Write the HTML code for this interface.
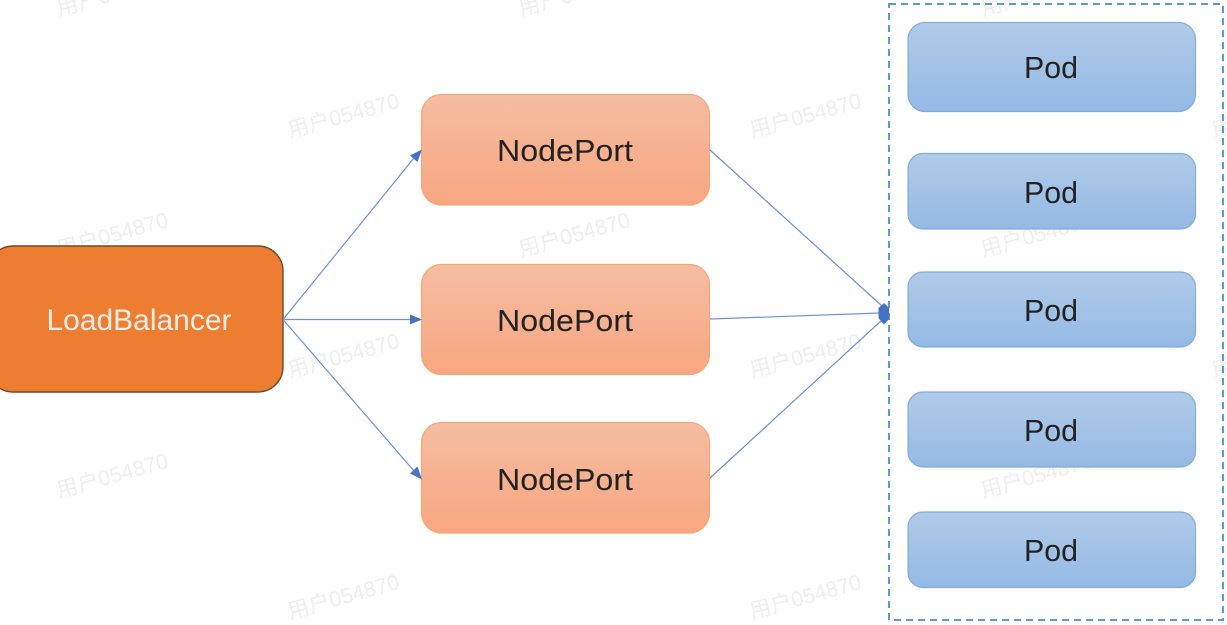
<!DOCTYPE html>
<html>
<head>
<meta charset="utf-8">
<style>
html,body{margin:0;padding:0;background:#fff;width:1227px;height:625px;overflow:hidden}
svg{display:block}
.wm{font-family:"Liberation Sans","Noto Sans CJK SC",sans-serif;font-size:21.5px;fill:#efefef}
.t{font-family:"Liberation Sans",sans-serif;font-size:31px;fill:#222;text-anchor:middle}
.o{fill:url(#og);stroke:#f4a878;stroke-width:1.2}
.b{fill:url(#bg);stroke:#7fadde;stroke-width:1.2}
.l{stroke:#6a93d6;stroke-width:1.2;fill:none}
.a{fill:#4472c4}
</style>
</head>
<body>
<svg width="1227" height="625" viewBox="0 0 1227 625" xmlns="http://www.w3.org/2000/svg">
<defs>
<linearGradient id="og" x1="0" y1="0" x2="0" y2="1"><stop offset="0" stop-color="#f5bda2"/><stop offset="1" stop-color="#f7a680"/></linearGradient>
<linearGradient id="bg" x1="0" y1="0" x2="0" y2="1"><stop offset="0" stop-color="#b1cbe9"/><stop offset="1" stop-color="#94b9e4"/></linearGradient>
</defs>

<g class="wm">
<text transform="translate(59,16) rotate(-15.5)">用户054870</text>
<text transform="translate(59,257) rotate(-15.5)">用户054870</text>
<text transform="translate(59,498) rotate(-15.5)">用户054870</text>
<text transform="translate(290,138) rotate(-15.5)">用户054870</text>
<text transform="translate(290,378) rotate(-15.5)">用户054870</text>
<text transform="translate(290,619) rotate(-15.5)">用户054870</text>
<text transform="translate(521,16) rotate(-15.5)">用户054870</text>
<text transform="translate(521,257) rotate(-15.5)">用户054870</text>
<text transform="translate(521,498) rotate(-15.5)">用户054870</text>
<text transform="translate(752,138) rotate(-15.5)">用户054870</text>
<text transform="translate(752,378) rotate(-15.5)">用户054870</text>
<text transform="translate(752,619) rotate(-15.5)">用户054870</text>
<text transform="translate(983,16) rotate(-15.5)">用户054870</text>
<text transform="translate(983,257) rotate(-15.5)">用户054870</text>
<text transform="translate(983,498) rotate(-15.5)">用户054870</text>
<text transform="translate(1214,138) rotate(-15.5)">用户054870</text>
<text transform="translate(1214,378) rotate(-15.5)">用户054870</text>
</g>

<rect x="889" y="4" width="334" height="616" fill="none" stroke="#5b9bd5" stroke-width="2" stroke-dasharray="7 5"/>

<rect x="-12" y="246" width="295" height="146" rx="25" ry="25" fill="#ed7d31" stroke="#6f4a2a" stroke-width="1.4"/>
<text x="139" y="330" font-family="Liberation Sans, sans-serif" font-size="30" fill="#fbeee6" text-anchor="middle" textLength="185" lengthAdjust="spacingAndGlyphs">LoadBalancer</text>

<rect class="o" x="421.500" y="94.500" width="288" height="110.500" rx="20"/>
<text class="t" x="565" y="161" textLength="136" lengthAdjust="spacingAndGlyphs">NodePort</text>
<rect class="o" x="421.500" y="264.500" width="288" height="110" rx="20"/>
<text class="t" x="565" y="331" textLength="136" lengthAdjust="spacingAndGlyphs">NodePort</text>
<rect class="o" x="421.500" y="422.500" width="288" height="110.500" rx="20"/>
<text class="t" x="565" y="490" textLength="136" lengthAdjust="spacingAndGlyphs">NodePort</text>

<rect class="b" x="908" y="22.500" width="287.500" height="89" rx="17"/>
<text class="t" x="1051" y="78" textLength="54" lengthAdjust="spacingAndGlyphs">Pod</text>
<rect class="b" x="908" y="153.500" width="287.500" height="75.500" rx="15"/>
<text class="t" x="1051" y="203" textLength="54" lengthAdjust="spacingAndGlyphs">Pod</text>
<rect class="b" x="908" y="272" width="287.500" height="75" rx="15"/>
<text class="t" x="1051" y="321" textLength="54" lengthAdjust="spacingAndGlyphs">Pod</text>
<rect class="b" x="908" y="392" width="287.500" height="75" rx="15"/>
<text class="t" x="1051" y="441" textLength="54" lengthAdjust="spacingAndGlyphs">Pod</text>
<rect class="b" x="908" y="512" width="287.500" height="75.500" rx="15"/>
<text class="t" x="1051" y="561" textLength="54" lengthAdjust="spacingAndGlyphs">Pod</text>

<path class="l" d="M283 319.500L414 158M283 319.500H412M283 319.500L414 471"/>
<path class="a" d="M422 149.500L417.500 162L410 155.500Z"/>
<path class="a" d="M422 319.500L410 324.500V314.500Z"/>
<path class="a" d="M422 479.500L410 473.500L417.500 466.500Z"/>

<path class="l" d="M710 150L882 306M710 319L880 313M710 478L882 320"/>
<path class="a" d="M884 303L889 308V319L884 324.500L878.500 318V308Z"/>
</svg>
</body>
</html>
